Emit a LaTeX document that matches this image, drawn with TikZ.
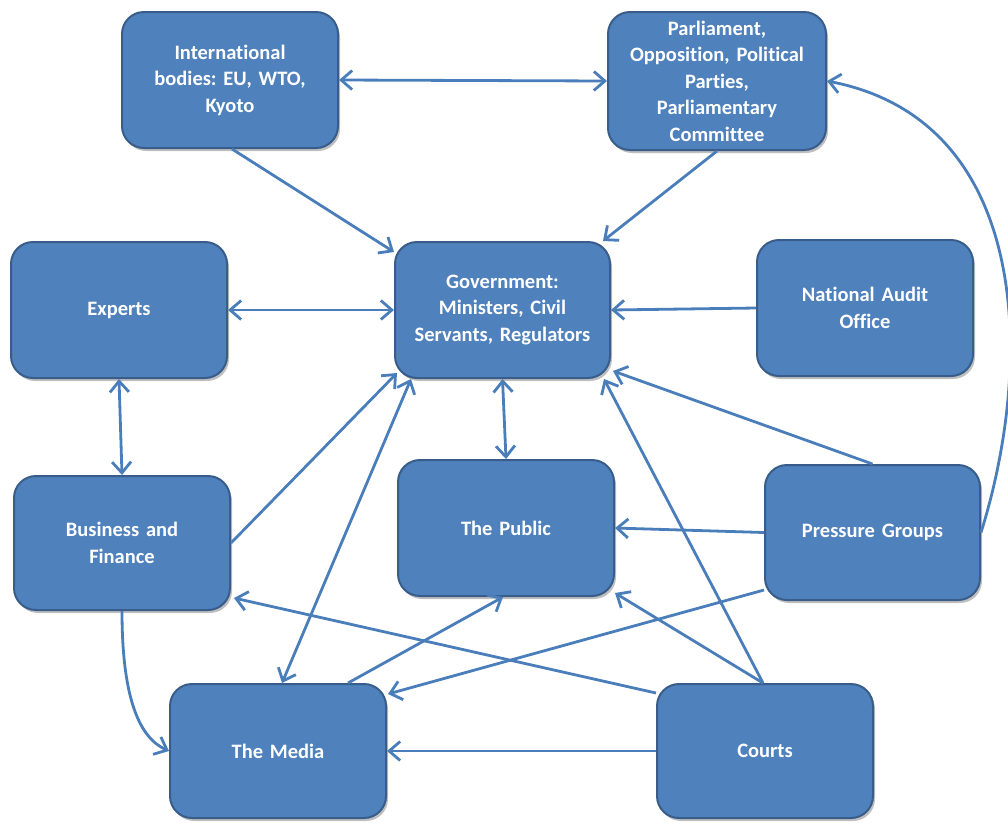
\documentclass[tikz,border=0pt]{standalone}
\usepackage{fontspec}
\setmainfont{Carlito}[Ligatures=NoCommon]
\usetikzlibrary{arrows.meta,shadows}
\definecolor{boxfill}{HTML}{4F81BD}
\definecolor{boxline}{HTML}{385D8A}
\definecolor{arrowc}{HTML}{4A7EBB}
\frenchspacing
\begin{document}
\begin{tikzpicture}[x=1pt,y=-1pt,
  box/.style={draw=boxline, line width=2pt, fill=boxfill, rounded corners=22pt,
    minimum width=216pt, minimum height=136pt, text width=205pt, align=center,
    text=white, font=\fontsize{20.5}{26.5}\selectfont\bfseries\frenchspacing,
    drop shadow={shadow xshift=2pt, shadow yshift=-3pt, opacity=0.25, fill=black}},
  conn/.style={draw=arrowc, line width=2.8pt},
  tip/.tip={Straight Barb[length=11pt,width=19pt]},
  uni/.style={conn, -tip},
  bi/.style={conn, tip-tip}]
\useasboundingbox (0,0) rectangle (1008,823);
\node[box] (intl) at (230,80) {International\\bodies: EU, WTO,\\Kyoto};
\node[box, minimum width=218pt, minimum height=138pt] (parl) at (717,81) {Parliament,\\Opposition, Political\\Parties,\\Parliamentary\\Committee};
\node[box] (exp) at (119,310) {Experts};
\node[box, minimum width=215pt] (gov) at (502.5,310) {Government:\\Ministers, Civil\\Servants, Regulators};
\node[box] (nao) at (865,308) {National Audit\\Office};
\node[box, minimum height=134pt] (bus) at (122,543) {Business and\\Finance};
\node[box] (pub) at (506,528) {The Public};
\node[box, minimum width=215pt, minimum height=135pt] (pg) at (872.5,532.5) {Pressure Groups};
\node[box, minimum height=134pt] (med) at (278,751) {The Media};
\node[box, minimum height=134pt] (cts) at (765,751) {Courts};
% connectors
\draw[bi] (intl.east) -- (parl.west);
\draw[uni] ([shift={(2,0)}]intl.south) -- ([shift={(0,11)}]gov.north west);
\draw[uni] (parl.south) -- ([shift={(-8,0)}]gov.north east);
\draw[bi] (exp.east) -- (gov.west);
\draw[uni] (nao.west) -- (gov.east);
\draw[bi] (gov.south) -- (pub.north);
\draw[bi] (exp.south) -- (bus.north);
\draw[uni] (bus.east) -- ([shift={(3,-6)}]gov.south west);
\draw[bi] ([shift={(4,0)}]med.north) -- ([shift={(17,0)}]gov.south west);
\draw[uni] (pg.north) -- ([shift={(2,-8)}]gov.south east);
\draw[uni] ([shift={(-2,0)}]cts.north) -- ([shift={(-7,0)}]gov.south east);
\draw[uni] (pg.west) -- (pub.east);
\draw[uni] ([shift={(0,-11)}]pg.south west) -- ([shift={(1,11)}]med.north east);
\draw[uni] ([shift={(-2,0)}]cts.north) -- ([shift={(0,-4)}]pub.south east);
\draw[uni] ([shift={(0,10)}]cts.north west) -- ([shift={(3,-13)}]bus.south east);
\draw[uni] ([shift={(70,0)}]med.north) -- ([shift={(-3,0)}]pub.south);
\draw[uni] (cts.west) -- (med.east);
\draw[uni] (bus.south) .. controls (122,700) and (140,738) .. (med.west);
\draw[uni] (pg.east) .. controls (1035,360) and (1030,120) .. (parl.east);
\end{tikzpicture}
\end{document}
